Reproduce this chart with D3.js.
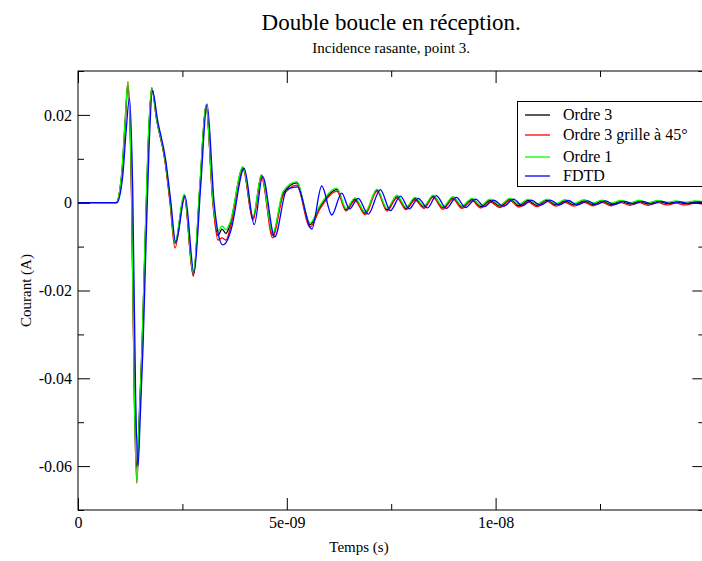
<!DOCTYPE html>
<html><head><meta charset="utf-8">
<script src="https://cdn.jsdelivr.net/npm/d3@7"></script>
<style>
body{margin:0;background:#fff}
text{font-family:"Liberation Serif","Times New Roman",serif;fill:#000}
</style>
</head><body><svg id="c" width="702" height="561"></svg>
<script>
// time in ns shared by the three "Ordre" series
const timeNs = [0,0.91,1.046,1.125,1.197,1.281,1.353,1.408,1.461,1.533,
1.604,1.676,1.765,1.885,2.083,2.203,2.323,2.545,2.761,2.921,
3.065,3.233,3.352,3.448,3.544,3.640,3.951,4.191,4.394,4.662,
4.909,5.237,5.556,5.795,6.202,6.418,6.633,6.873,7.160,7.399,
7.639,7.854,8.070,8.285,8.501,8.740,8.980,9.195,9.435,9.650,
9.866,10.105,10.345,10.560,10.776,10.991,11.231,11.446,11.662,11.877,
12.117,12.332,12.548,12.763,13.003,13.218,13.434,13.649,13.889,14.104,
14.320,14.535,14.775,15.0];
const ordre3 = [0,0,0.006,0.0173,0.0268,0.003,-0.045,-0.0605,-0.050,-0.033,
-0.010,0.012,0.0260,0.0188,0.0097,0.0006,-0.0093,0.0017,-0.0165,0.004,
0.0222,0.0,-0.0075,-0.0060,-0.0070,-0.0050,0.0080,-0.0035,0.0062,-0.0074,
0.0020,0.0045,-0.0050,-0.0010,0.0030,-0.0016,0.0008,-0.0024,0.0029,-0.0016,
0.0014,-0.0013,0.0009,-0.0010,0.0015,-0.0012,0.0011,-0.0010,0.0007,-0.0009,
0.0005,-0.0008,0.0008,-0.0007,0.0005,-0.0006,0.0006,-0.0005,0.0004,-0.0005,
0.0004,-0.0004,0.0004,-0.0004,0.0003,-0.0003,0.0003,-0.0003,0.0003,-0.0002,
0.0002,-0.0002,0.0002,-0.0001];
const ordre3g45 = [0,0,0.0065,0.0180,0.0276,0.002,-0.047,-0.0639,-0.052,-0.034,
-0.011,0.011,0.0262,0.0190,0.0095,0.0000,-0.0103,0.0012,-0.0168,0.0035,
0.0220,-0.0005,-0.0085,-0.0080,-0.0085,-0.0060,0.0076,-0.0040,0.0058,-0.0080,
0.0015,0.0040,-0.0056,-0.0014,0.0026,-0.0019,0.0005,-0.0027,0.0026,-0.0019,
0.0011,-0.0016,0.0006,-0.0013,0.0012,-0.0015,0.0008,-0.0013,0.0004,-0.0012,
0.0002,-0.0011,0.0005,-0.0010,0.0002,-0.0009,0.0003,-0.0008,0.0001,-0.0008,
0.0001,-0.0007,0.0001,-0.0007,0.0000,-0.0006,0.0000,-0.0006,0.0000,-0.0005,
-0.0001,-0.0005,-0.0001,-0.0004];
const ordre1 = [0,0,0.0068,0.0182,0.0275,0.004,-0.046,-0.0636,-0.051,-0.033,
-0.009,0.013,0.0262,0.0190,0.0100,0.0010,-0.0092,0.0020,-0.0160,0.0045,
0.0222,0.0003,-0.0065,-0.0053,-0.0062,-0.0045,0.0082,-0.0030,0.0064,-0.0070,
0.0025,0.0048,-0.0046,-0.0006,0.0033,-0.0013,0.0011,-0.0021,0.0031,-0.0013,
0.0017,-0.0010,0.0012,-0.0007,0.0017,-0.0009,0.0014,-0.0007,0.0010,-0.0006,
0.0008,-0.0005,0.0010,-0.0004,0.0008,-0.0003,0.0008,-0.0002,0.0007,-0.0002,
0.0007,-0.0001,0.0006,-0.0001,0.0005,0.0000,0.0005,0.0000,0.0005,0.0001,
0.0004,0.0001,0.0004,0.0002];
// FDTD series, own time base (ns)
const fdtdTimeNs = [0,0.93,1.07,1.15,1.233,1.31,1.38,1.437,1.49,1.56,
1.63,1.70,1.784,1.905,2.10,2.22,2.34,2.565,2.78,2.94,
3.09,3.26,3.38,3.47,3.58,3.67,3.98,4.22,4.42,4.71,
5.0,5.25,5.598,5.836,6.076,6.315,6.50,6.71,6.95,7.24,
7.48,7.72,7.93,8.15,8.37,8.58,8.82,9.06,9.28,9.52,
9.73,9.95,10.19,10.43,10.64,10.86,11.07,11.31,11.53,11.74,
11.96,12.20,12.41,12.63,12.84,13.08,13.30,13.51,13.73,13.97,
14.18,14.40,14.62,14.86,15.0];
const fdtd = [0,0,0.006,0.016,0.0238,0.003,-0.044,-0.0600,-0.049,-0.032,
-0.009,0.012,0.0255,0.0188,0.0097,0.0004,-0.0090,0.0015,-0.0160,0.004,
0.0225,0.0,-0.0080,-0.0096,-0.0085,-0.0060,0.0078,-0.0050,0.0060,-0.0078,
0.0030,0.0036,-0.0060,0.0038,-0.0028,0.0022,-0.0014,0.0010,-0.0026,0.0030,
-0.0018,0.0015,-0.0014,0.0010,-0.0012,0.0016,-0.0013,0.0012,-0.0011,0.0008,
-0.0009,0.0006,-0.0008,0.0008,-0.0007,0.0006,-0.0006,0.0006,-0.0005,0.0005,
-0.0005,0.0004,-0.0004,0.0004,-0.0004,0.0003,-0.0003,0.0003,-0.0003,0.0003,
-0.0002,0.0002,-0.0002,0.0002,0.0];

const seriesNames = ["Ordre 3","Ordre 3 grille à 45°","Ordre 1","FDTD"];
const seriesColors = ["#000000","#ff0000","#00ff00","#0000ff"];
const xMajorTicks = [0,5e-9,1e-8,1.5e-8];
const xTickLabels = ["0","5e-09","1e-08",""];
const xMinorTicks = [2.5e-9,7.5e-9,1.25e-8];
const yMajorTicks = [-0.06,-0.04,-0.02,0,0.02];
const yTickLabels = ["-0.06","-0.04","-0.02","0","0.02"];
const yMinorTicks = [-0.07,-0.05,-0.03,-0.01,0.01,0.03];

const svg = d3.select("#c");
const L=78, R=704.4, T=71, B=510;
const x = d3.scaleLinear().domain([0,1.5e-8]).range([L,R]);
const y = d3.scaleLinear().domain([-0.07,0.03]).range([B,T]);

const series = [
  {t:timeNs, v:ordre3},
  {t:timeNs, v:ordre3g45},
  {t:timeNs, v:ordre1},
  {t:fdtdTimeNs, v:fdtd}
].map((s,i)=>({name:seriesNames[i], color:seriesColors[i],
  pts:s.t.map((tt,j)=>[tt*1e-9, s.v[j]])}));

svg.append("defs").append("clipPath").attr("id","clip")
  .append("rect").attr("x",L).attr("y",T).attr("width",R-L).attr("height",B-T);

const line = d3.line().x(d=>x(d[0])).y(d=>y(d[1])).curve(d3.curveMonotoneX);
const g = svg.append("g").attr("clip-path","url(#clip)");
series.forEach(s=>{
  g.append("path").attr("d",line(s.pts)).attr("fill","none")
   .attr("stroke",s.color).attr("stroke-width",1.3).attr("stroke-linejoin","round");
});

function styleAxis(sel){ sel.select(".domain").remove(); sel.selectAll(".tick line").attr("stroke","#000"); sel.selectAll("text").attr("font-size",16).attr("font-family","Liberation Serif, serif").attr("fill","#000"); }

// bottom
svg.append("g").attr("transform",`translate(0,${B})`)
  .call(d3.axisBottom(x).tickValues(xMajorTicks).tickSize(-12).tickPadding(7).tickFormat((d,i)=>xTickLabels[i]))
  .call(styleAxis);
svg.append("g").attr("transform",`translate(0,${B})`)
  .call(d3.axisBottom(x).tickValues(xMinorTicks).tickSize(-6).tickFormat("")).call(styleAxis);
// top
svg.append("g").attr("transform",`translate(0,${T})`)
  .call(d3.axisTop(x).tickValues(xMajorTicks).tickSize(-12).tickFormat("")).call(styleAxis);
svg.append("g").attr("transform",`translate(0,${T})`)
  .call(d3.axisTop(x).tickValues(xMinorTicks).tickSize(-6).tickFormat("")).call(styleAxis);
// left
svg.append("g").attr("transform",`translate(${L},0)`)
  .call(d3.axisLeft(y).tickValues(yMajorTicks).tickSize(-12).tickPadding(6).tickFormat((d,i)=>yTickLabels[i]))
  .call(styleAxis);
svg.append("g").attr("transform",`translate(${L},0)`)
  .call(d3.axisLeft(y).tickValues(yMinorTicks).tickSize(-6).tickFormat("")).call(styleAxis);
// right
svg.append("g").attr("transform",`translate(${R},0)`)
  .call(d3.axisRight(y).tickValues(yMajorTicks).tickSize(-12).tickFormat("")).call(styleAxis);
svg.append("g").attr("transform",`translate(${R},0)`)
  .call(d3.axisRight(y).tickValues(yMinorTicks).tickSize(-6).tickFormat("")).call(styleAxis);

svg.append("rect").attr("x",L).attr("y",T).attr("width",R-L).attr("height",B-T)
  .attr("fill","none").attr("stroke","#000").attr("stroke-width",1);

// titles
const cx=(L+R)/2;
svg.append("text").attr("x",cx).attr("y",30).attr("text-anchor","middle").attr("font-size",23).text("Double boucle en réception.");
svg.append("text").attr("x",cx).attr("y",53).attr("text-anchor","middle").attr("font-size",15).text("Incidence rasante, point 3.");
svg.append("text").attr("x",359).attr("y",552).attr("text-anchor","middle").attr("font-size",15).text("Temps (s)");
svg.append("text").attr("transform",`translate(31,${(T+B)/2}) rotate(-90)`).attr("text-anchor","middle").attr("font-size",15).text("Courant (A)");

// legend
const lg = svg.append("g");
lg.append("rect").attr("x",517.5).attr("y",101.5).attr("width",200).attr("height",85)
  .attr("fill","#fff").attr("stroke","#000").attr("stroke-width",1);
const legY=[115,135,157,176];
series.forEach((s,i)=>{
  lg.append("line").attr("x1",525).attr("x2",550).attr("y1",legY[i]).attr("y2",legY[i]).attr("stroke",s.color).attr("stroke-width",1.3);
  lg.append("text").attr("x",563).attr("y",legY[i]+5).attr("font-size",16).text(s.name);
});
</script></body></html>
